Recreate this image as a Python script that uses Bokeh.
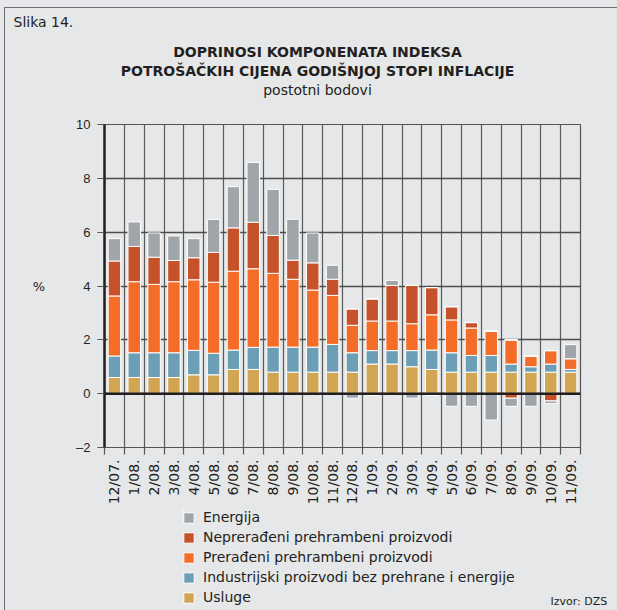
from math import pi
from bokeh.plotting import figure
from bokeh.models import (ColumnDataSource, Range1d, FixedTicker, Legend, LegendItem,
                          Label, Span)
from bokeh.embed import file_html
from bokeh.resources import INLINE

# ---------------- data ----------------
months = ["12/07.", "1/08.", "2/08.", "3/08.", "4/08.", "5/08.", "6/08.", "7/08.",
          "8/08.", "9/08.", "10/08.", "11/08.", "12/08.", "1/09.", "2/09.", "3/09.",
          "4/09.", "5/09.", "6/09.", "7/09.", "8/09.", "9/09.", "10/09.", "11/09."]

usluge = [0.6, 0.6, 0.6, 0.6, 0.7, 0.7, 0.9, 0.9, 0.8, 0.8, 0.8, 0.8,
          0.8, 1.1, 1.1, 1.0, 0.9, 0.8, 0.8, 0.8, 0.8, 0.8, 0.8, 0.8]
industrijski = [0.8, 0.92, 0.92, 0.92, 0.91, 0.8, 0.72, 0.82, 0.93, 0.93, 0.93, 1.03,
                0.72, 0.5, 0.5, 0.6, 0.72, 0.72, 0.62, 0.62, 0.3, 0.2, 0.3, 0.1]
preradeni = [2.23, 2.64, 2.54, 2.64, 2.62, 2.64, 2.93, 2.92, 2.74, 2.52, 2.12, 1.82,
             1.02, 1.1, 1.1, 1.0, 1.31, 1.22, 1.02, 0.9, 0.9, 0.4, 0.5, 0.4]
nepreradeni = [1.3, 1.31, 1.01, 0.79, 0.82, 1.11, 1.61, 1.73, 1.41, 0.71, 1.01, 0.6,
               0.61, 0.82, 1.32, 1.42, 1.01, 0.49, 0.2, 0.0, -0.17, 0.0, -0.27, 0.0]
energija = [0.83, 0.91, 0.9, 0.91, 0.71, 1.22, 1.53, 2.22, 1.71, 1.52, 1.11, 0.52,
            -0.17, -0.07, 0.19, -0.17, -0.07, -0.47, -0.47, -0.98, -0.3, -0.47, -0.1, 0.52]

series_names = ["Usluge", "Industrijski proizvodi bez prehrane i energije",
                "Prerađeni prehrambeni proizvodi", "Neprerađeni prehrambeni proizvodi",
                "Energija"]
series_values = [usluge, industrijski, preradeni, nepreradeni, energija]
colors = ["#d1a552", "#6c9fb5", "#f36d29", "#c5522b", "#a0a5aa"]

y_ticks = [-2, 0, 2, 4, 6, 8, 10]

BG = "#e6e7e8"
TXT = "#231f20"
W = 601

# ---------------- source ----------------
x = [i + 0.5 for i in range(len(months))]
bounds = list(range(len(months) + 1))
data = {"x": x}
pos_cols, neg_cols = [], []
for k, vals in enumerate(series_values):
    data[f"p{k}"] = [v if v > 0 else 0.0 for v in vals]
    data[f"n{k}"] = [v if v < 0 else 0.0 for v in vals]
    pos_cols.append(f"p{k}")
    neg_cols.append(f"n{k}")
src = ColumnDataSource(data)


def add_text(fig, txt, px, py, size, bold=False, align="left"):
    fig.add_layout(Label(x=px, y=py, text=txt, text_align=align, text_baseline="alphabetic",
                         text_font="DejaVu Sans", text_font_size=size,
                         text_font_style="bold" if bold else "normal", text_color=TXT))


# ---------------- header (texts) ----------------
HH = 108
head = figure(width=W, height=HH, x_range=Range1d(0, W), y_range=Range1d(HH, 0),
              x_axis_type=None, y_axis_type=None, output_backend="svg", toolbar_location=None,
              min_border=0, background_fill_color=BG, border_fill_color=BG,
              outline_line_color=None)
head.grid.visible = False
add_text(head, "Slika 14.", 5, 13, "14px")
add_text(head, "DOPRINOSI KOMPONENATA INDEKSA", 309, 43, "14px", bold=True, align="center")
add_text(head, "POTROŠAČKIH CIJENA GODIŠNJOJ STOPI INFLACIJE", 309, 62, "14px", bold=True, align="center")
add_text(head, "postotni bodovi", 309, 81, "14px", align="center")

# ---------------- chart ----------------
p = figure(width=W, height=391, x_range=Range1d(0, len(months)), y_range=Range1d(-2, 10),
           output_backend="svg", toolbar_location=None,
           min_border_left=96, min_border_right=29, min_border_top=8, min_border_bottom=59,
           background_fill_color=BG, border_fill_color=BG,
           outline_line_color="#555555", outline_line_width=1.2)

yax = p.yaxis[0]
yax.ticker = FixedTicker(ticks=y_ticks)
yax.major_label_overrides = {-2: "–2"}
yax.minor_tick_line_color = None
yax.major_tick_in = 0
yax.major_tick_out = 7
yax.major_tick_line_color = "#555555"
yax.major_tick_line_width = 1.2
yax.axis_line_color = TXT
yax.axis_line_width = 2.5
yax.major_label_standoff = 7
yax.major_label_text_font = "Liberation Sans"
yax.major_label_text_font_size = "13px"
yax.major_label_text_color = TXT
yax.axis_label = "%"
yax.axis_label_orientation = "horizontal"
yax.axis_label_text_font = "DejaVu Sans"
yax.axis_label_text_font_style = "normal"
yax.axis_label_text_font_size = "13px"
yax.axis_label_text_color = TXT
yax.axis_label_standoff = 28

p.ygrid.grid_line_color = "#4d4d4d"
p.ygrid.grid_line_width = 1.3

xax = p.xaxis[0]
xax.ticker = FixedTicker(ticks=x, minor_ticks=bounds)
xax.major_label_overrides = {xv: m for xv, m in zip(x, months)}
xax.major_label_orientation = pi / 2
xax.major_tick_line_color = None
xax.major_tick_in = 0
xax.major_tick_out = 0
xax.minor_tick_in = 0
xax.minor_tick_out = 7
xax.minor_tick_line_color = "#555555"
xax.minor_tick_line_width = 1.2
xax.axis_line_color = None
xax.major_label_standoff = 5
xax.major_label_text_font = "DejaVu Sans"
xax.major_label_text_font_size = "14px"
xax.major_label_text_color = TXT
p.xgrid.grid_line_color = None
p.xgrid.minor_grid_line_color = "#5a5a5a"
p.xgrid.minor_grid_line_width = 1.2

p.vbar_stack(pos_cols, x="x", width=0.63, source=src,
             fill_color=colors, line_color="white", line_width=1)
p.vbar_stack(neg_cols, x="x", width=0.63, source=src,
             fill_color=colors, line_color="white", line_width=1)

p.add_layout(Span(location=0, dimension="width", line_color=TXT, line_width=2.5))

# ---------------- legend + source note ----------------
LH = 100
LX = 174
leg = figure(width=W, height=LH, x_range=Range1d(LX, W), y_range=Range1d(LH, 0),
             x_axis_type=None, y_axis_type=None, output_backend="svg", toolbar_location=None,
             min_border_left=LX, min_border_right=0, min_border_top=0, min_border_bottom=0,
             background_fill_color=BG, border_fill_color=BG, outline_line_color=None)
leg.grid.visible = False

# legend swatches: same stacked series, drawn outside this panel's visible range
swatches = leg.vbar_stack(pos_cols, x="x", width=0.63, source=src,
                          fill_color=colors, line_color="white", line_width=1)
items = [LegendItem(label=series_names[k], renderers=[swatches[k]]) for k in reversed(range(5))]
legend = Legend(items=items, location="top_left", orientation="vertical", margin=0,
                padding=0, spacing=0, label_height=20, glyph_height=13, glyph_width=13,
                label_standoff=8, label_text_font="DejaVu Sans", label_text_font_size="14px",
                label_text_color=TXT, border_line_color=None, background_fill_alpha=0)
leg.add_layout(legend, "center")
add_text(leg, "Izvor: DZS", 542, 94, "11px")

html = file_html([head, p, leg], INLINE, title="Slika 14")
style = ("<style>html{background:#e6e7e8;} body{margin:7px 0 0 4px;"
         "border-left:1px solid #6d6e71;border-top:1px solid #6d6e71;"
         "padding-left:3px;min-height:600px;}</style>")
html = html.replace("</head>", style + "</head>", 1)
open("out.html", "w").write(html)
